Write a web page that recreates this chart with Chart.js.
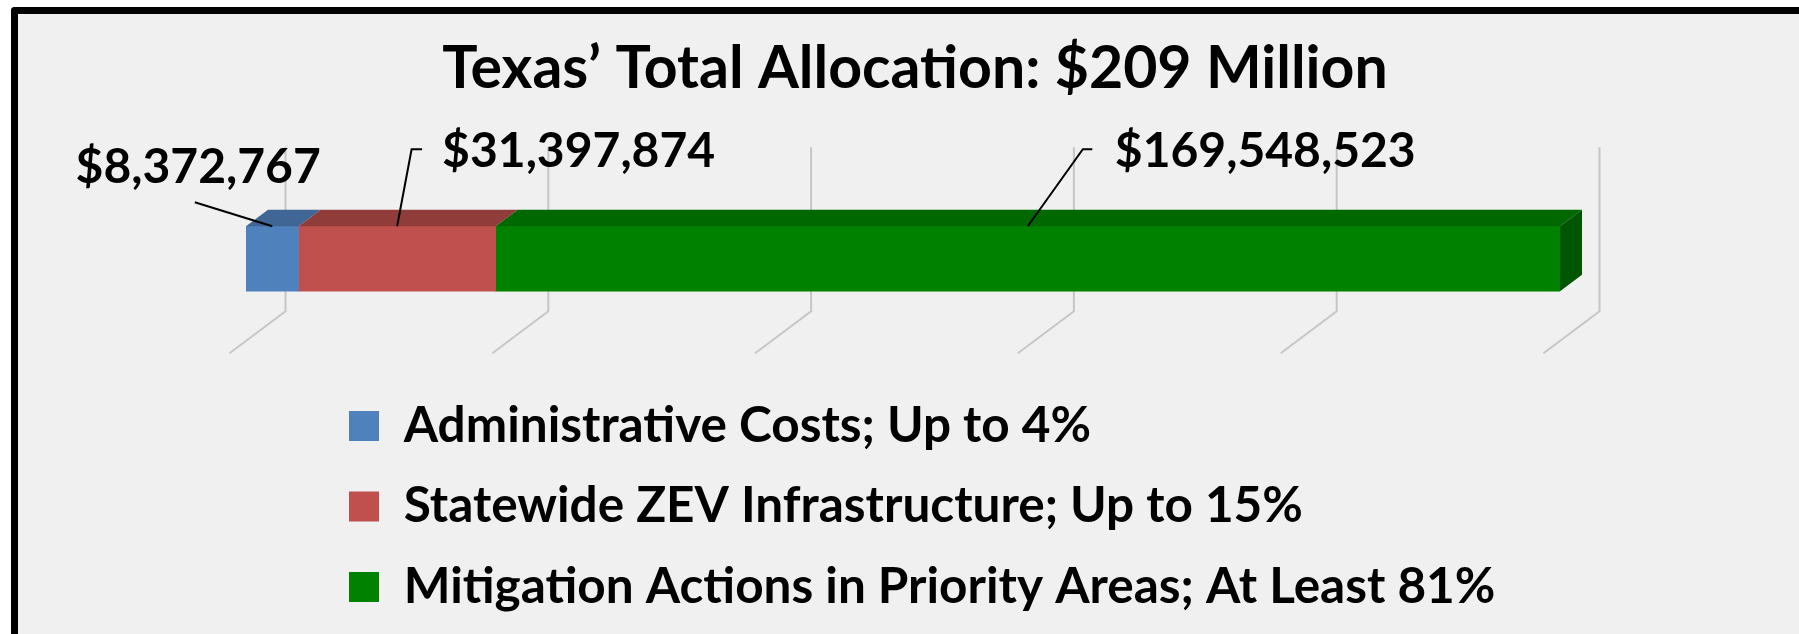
<!DOCTYPE html>
<html lang="en">
<head>
<meta charset="UTF-8">
<title>Texas’ Total Allocation</title>
<script src="https://cdn.jsdelivr.net/npm/chart.js@4.4.1/dist/chart.umd.min.js"></script>
<style>
    html, body { margin: 0; padding: 0; background: #ffffff; overflow: hidden; }
    #frame {
        position: absolute; left: 11px; top: 7px;
        width: 1900px; height: 700px;
        border-left: 7px solid #000; border-top: 7px solid #000;
        border-top-left-radius: 4px;
        background: #f0f0f0;
    }
    #allocationChart { position: absolute; left: 0; top: 0; }
</style>
</head>
<body>
<div id="frame"></div>
<canvas id="allocationChart" width="1799" height="634"></canvas>

<script>
// data
var categories = ['Texas'];
var seriesNames = [
    'Administrative Costs; Up to 4%',
    'Statewide ZEV Infrastructure; Up to 15%',
    'Mitigation Actions in Priority Areas; At Least 81%'
];
var amounts = [8372767, 31397874, 169548523];
var gridDivisions = 5;
var titleText = 'Texas’ Total Allocation: $209 Million';

// colours: front face, top face, end face
var frontColors = ['#4f81bd', '#c0504d', '#008200'];
var topColors = ['#3f6695', '#8f3c3b', '#006800'];
var sideColor = '#005600';

var total = amounts.reduce(function(a, b) { return a + b; }, 0);

// 3d look (oblique projection)
var depthX = 22, depthY = 16.5;
var wallOffset = 39.5;

function money(v) {
    return '$' + v.toLocaleString('en-US');
}

// back wall grid lines + floor, drawn behind the bars
var backWall = {
    id: 'backWall',
    beforeDatasetsDraw: function(chart) {
        var ctx = chart.ctx;
        var xs = chart.scales.x;
        var bar = chart.getDatasetMeta(0).data[0].getProps(['y'], true);
        ctx.save();
        ctx.strokeStyle = '#c6c6c6';
        ctx.lineWidth = 2;
        xs.ticks.forEach(function(t) {
            var x = xs.getPixelForValue(t.value) + wallOffset;
            ctx.beginPath();
            ctx.moveTo(x, bar.y - 111.5);
            ctx.lineTo(x, bar.y + 52.5);
            ctx.lineTo(x - 56, bar.y + 94.5);
            ctx.stroke();
        });
        ctx.restore();
    }
};

// top faces and the end face of the stacked bar
var barDepth = {
    id: 'barDepth',
    afterDatasetsDraw: function(chart) {
        var ctx = chart.ctx;
        var last = chart.data.datasets.length - 1;
        ctx.save();
        chart.data.datasets.forEach(function(ds, i) {
            var b = chart.getDatasetMeta(i).data[0].getProps(['x', 'y', 'base', 'height'], true);
            var top = b.y - b.height / 2, bottom = b.y + b.height / 2;
            var left = Math.min(b.x, b.base), right = Math.max(b.x, b.base);
            ctx.fillStyle = topColors[i];
            ctx.beginPath();
            ctx.moveTo(left, top);
            ctx.lineTo(left + depthX, top - depthY);
            ctx.lineTo(right + depthX, top - depthY);
            ctx.lineTo(right, top);
            ctx.closePath();
            ctx.fill();
            if (i === last) {
                ctx.fillStyle = sideColor;
                ctx.beginPath();
                ctx.moveTo(right, top);
                ctx.lineTo(right + depthX, top - depthY);
                ctx.lineTo(right + depthX, bottom - depthY);
                ctx.lineTo(right, bottom);
                ctx.closePath();
                ctx.fill();
            }
        });
        ctx.restore();
    }
};

// value labels with leader lines
var labelPlaces = [
    { path: [[-77.5, -24]], tx: 48.5, ty: -43, align: 'right' },
    { path: [[14.5, -77], [25, -77]], tx: 45, ty: -59, align: 'left' },
    { path: [[55, -77], [64.5, -77]], tx: 87, ty: -59, align: 'left' }
];
var valueLabels = {
    id: 'valueLabels',
    afterDatasetsDraw: function(chart) {
        var ctx = chart.ctx;
        ctx.save();
        ctx.strokeStyle = '#000';
        ctx.lineWidth = 2;
        ctx.fillStyle = '#000';
        ctx.font = 'bold 48px Lato';
        ctx.textBaseline = 'alphabetic';
        chart.data.datasets.forEach(function(ds, i) {
            var b = chart.getDatasetMeta(i).data[0].getProps(['x', 'y', 'base', 'height'], true);
            var cx = (b.x + b.base) / 2;
            var top = b.y - b.height / 2;
            var p = labelPlaces[i];
            ctx.beginPath();
            ctx.moveTo(cx, top);
            p.path.forEach(function(pt) { ctx.lineTo(cx + pt[0], top + pt[1]); });
            ctx.stroke();
            ctx.textAlign = p.align;
            ctx.fillText(money(ds.data[0]), cx + p.tx, top + p.ty);
        });
        ctx.restore();
    }
};

// legend sits further right than the plot, title a bit right of centre
var blockShift = {
    id: 'blockShift',
    afterLayout: function(chart) {
        var lg = chart.legend;
        var dx = 349 - (lg.left + lg.options.labels.padding);
        lg.left += dx;
        lg.right += dx;
        var tb = chart.titleBlock;
        tb.left += 12;
        tb.right += 12;
    }
};

Chart.defaults.font.family = 'Lato';
Chart.defaults.color = '#000';

var ctx = document.getElementById('allocationChart').getContext('2d');
var allocationChart = new Chart(ctx, {
    type: 'bar',
    data: {
        labels: categories,
        datasets: seriesNames.map(function(name, i) {
            return {
                label: name,
                data: [amounts[i]],
                backgroundColor: frontColors[i],
                borderWidth: 0,
                barThickness: 65
            };
        })
    },
    options: {
        indexAxis: 'y',
        responsive: false,
        animation: false,
        layout: { padding: { top: 10, left: 246, right: 239, bottom: 12.25 } },
        scales: {
            x: {
                display: false,
                stacked: true,
                min: 0,
                max: total,
                ticks: { stepSize: total / gridDivisions }
            },
            y: {
                display: false,
                stacked: true
            }
        },
        plugins: {
            title: {
                display: true,
                text: titleText,
                color: '#000',
                font: { size: 59, weight: 'bold' },
                padding: { top: 24, bottom: 42.4 }
            },
            legend: {
                position: 'bottom',
                align: 'start',
                labels: {
                    boxWidth: 30,
                    boxHeight: 30,
                    padding: 31,
                    color: '#000',
                    font: { size: 49.5, weight: 'bold' }
                }
            },
            tooltip: { enabled: false }
        }
    },
    plugins: [backWall, barDepth, valueLabels, blockShift]
});
</script>

</body>
</html>
